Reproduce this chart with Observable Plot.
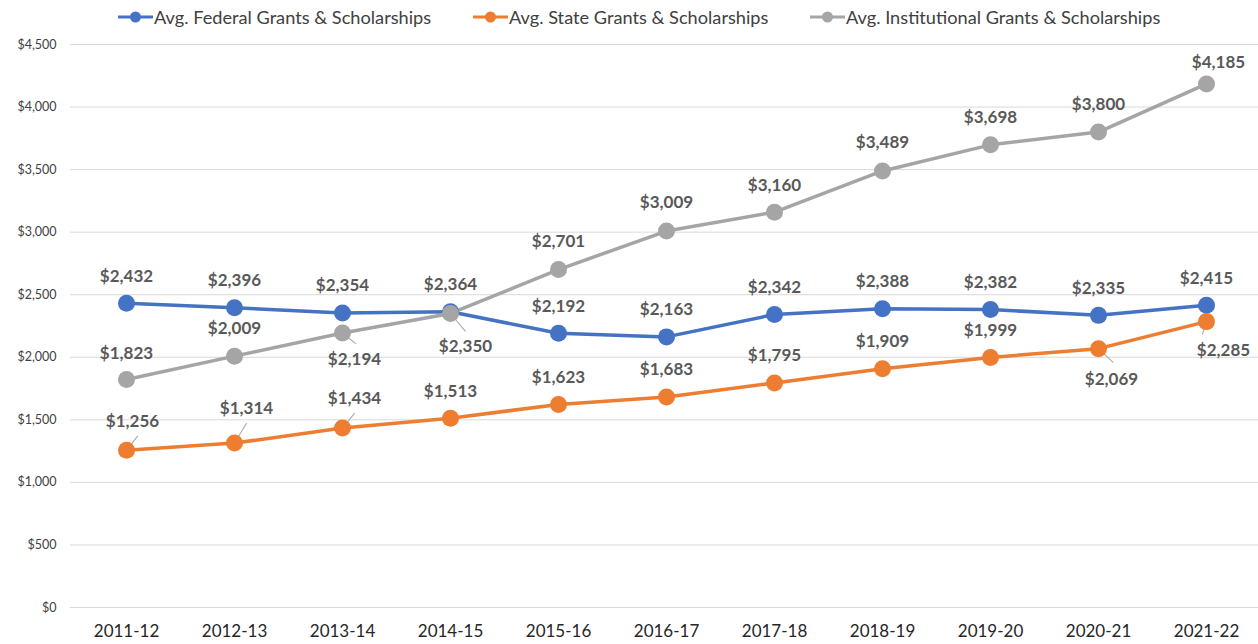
<!DOCTYPE html>
<html>
<head>
<meta charset="utf-8">
<script src="https://cdn.jsdelivr.net/npm/d3@7"></script>
<script src="https://cdn.jsdelivr.net/npm/@observablehq/plot@0.6"></script>
<style>
  html, body { margin: 0; padding: 0; background: #fff; }
  body { width: 1258px; height: 644px; overflow: hidden; font-family: Lato, "Open Sans", sans-serif; }
  #legend { position: relative; height: 36px; }
  .item { position: absolute; top: 6px; display: flex; align-items: center; font-size: 18.2px; color: #404040; white-space: nowrap; }
  .item svg { margin-right: 1px; }
</style>
</head>
<body>
<div id="legend"></div>
<div id="chart"></div>
<script>
const years = ["2011-12","2012-13","2013-14","2014-15","2015-16","2016-17","2017-18","2018-19","2019-20","2020-21","2021-22"];
const federal = [2432,2396,2354,2364,2192,2163,2342,2388,2382,2335,2415];
const state = [1256,1314,1434,1513,1623,1683,1795,1909,1999,2069,2285];
const institutional = [1823,2009,2194,2350,2701,3009,3160,3489,3698,3800,4185];
const seriesNames = ["Avg. Federal Grants & Scholarships","Avg. State Grants & Scholarships","Avg. Institutional Grants & Scholarships"];
const yTicks = [0,500,1000,1500,2000,2500,3000,3500,4000,4500];

// style / placement config
const colors = ["#4472C4","#ED7D31","#A5A5A5"];
const legendLeft = [118, 473, 810];
const labelOffsets = [
  years.map(() => [0,-27]),
  [[6,-29],[12,-35],[12,-30],[0,-27],[0,-27],[0,-27],[0,-27],[0,-27],[0,-27],[13,31],[17,29]],
  [[0,-26],[0,-28],[12,27],[15,33],[0,-28],[0,-28],[0,-27],[0,-28],[0,-27],[0,-28],[12,-21]]
];
// leader lines: [series, index, length(px), angle(deg clockwise from up)]
const leaders = [[1,0,18,38],[1,1,23,31],[1,2,19,39],[2,2,17,129],[2,3,23,140],[1,9,20,133],[1,10,13,198]];

const allValues = [federal, state, institutional];
const data = allValues.flatMap((vals, s) => vals.map((v, i) => ({series: seriesNames[s], s, i, year: years[i], value: v})));
const leaderData = leaders.map(([s,i,len,ang]) => ({year: years[i], value: allValues[s][i], len, ang}));

// legend
const legend = document.getElementById("legend");
seriesNames.forEach((name, s) => {
  const div = document.createElement("div");
  div.className = "item";
  div.style.left = legendLeft[s] + "px";
  div.innerHTML = `<svg width="35" height="14"><line x1="0" y1="7" x2="35" y2="7" stroke="${colors[s]}" stroke-width="3"/><circle cx="17.5" cy="7" r="5.5" fill="${colors[s]}"/></svg><span>${name.replace("&","&amp;")}</span>`;
  legend.appendChild(div);
});

const fmt = d3.format("$,");
const labelMarks = data.map(d => {
  const [dx, dy] = labelOffsets[d.s][d.i];
  return Plot.text([d], {x: "year", y: "value", text: d => fmt(d.value), dx, dy,
    fill: "#595959", fontSize: 17, fontWeight: "bold"});
});

const chart = Plot.plot({
  width: 1258,
  height: 608,
  marginTop: 8,
  marginBottom: 37,
  marginLeft: 70,
  marginRight: -4,
  style: {fontFamily: "Lato, 'Open Sans', sans-serif", background: "#fff", overflow: "hidden"},
  x: {type: "point", domain: years, padding: 0.5, label: null},
  y: {domain: [0, 4500], label: null},
  color: {domain: seriesNames, range: colors},
  length: {type: "identity"},
  marks: [
    Plot.gridY(yTicks, {stroke: "#d9d9d9", strokeOpacity: 1, strokeWidth: 1}),
    Plot.axisY(yTicks, {tickFormat: fmt, tickSize: 0, tickPadding: 14, fontSize: 12.5, fill: "#404040", label: null}),
    Plot.axisX({tickSize: 0, tickPadding: 17, fontSize: 17, fill: "#262626", label: null}),
    Plot.vector(leaderData, {x: "year", y: "value", length: "len", rotate: "ang", anchor: "start",
      stroke: "#a6a6a6", strokeWidth: 1,
      shape: {draw(context, l) { context.moveTo(0, 0); context.lineTo(0, -l); }}}),
    Plot.line(data, {x: "year", y: "value", z: "series", stroke: "series", strokeWidth: 3.5}),
    Plot.dot(data, {x: "year", y: "value", fill: "series", r: 8.5}),
    ...labelMarks
  ]
});
document.getElementById("chart").appendChild(chart);
</script>
</body>
</html>
